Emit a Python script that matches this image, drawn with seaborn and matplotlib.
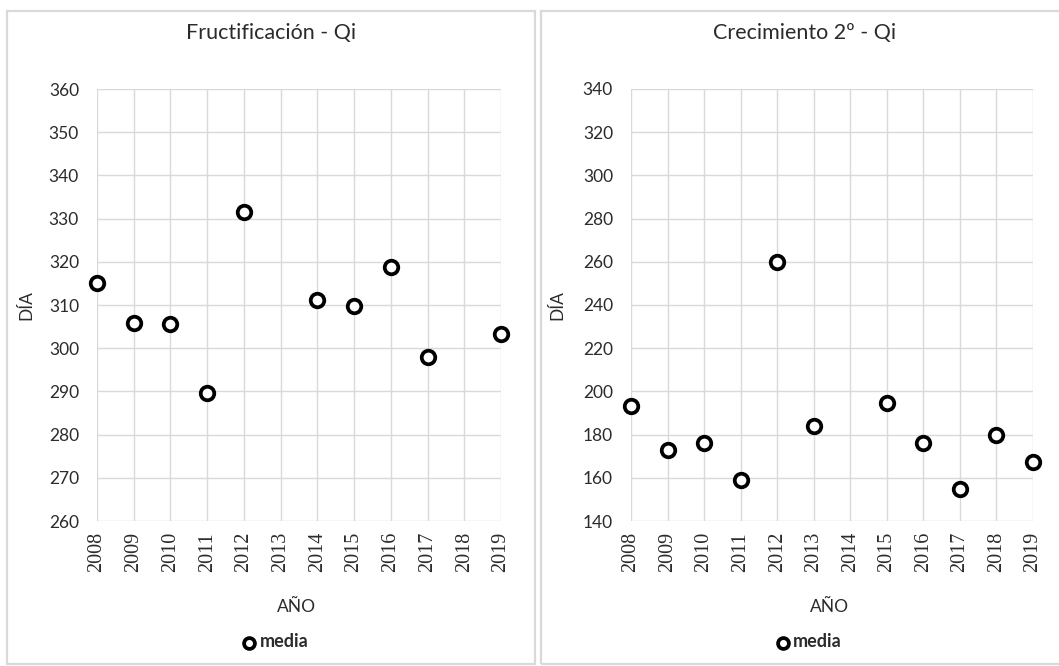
import matplotlib
matplotlib.use("Agg")
import matplotlib.pyplot as plt
from matplotlib.patches import Rectangle
import seaborn as sns
import pandas as pd

# Mean day of year per phenophase and year
years_all = list(range(2008, 2020))

fruct_years = [2008, 2009, 2010, 2011, 2012, 2014, 2015, 2016, 2017, 2019]
fruct_media = [315.2, 305.8, 305.6, 289.7, 331.6, 311.2, 309.7, 318.8, 297.9, 303.3]

crec_years = [2008, 2009, 2010, 2011, 2012, 2013, 2015, 2016, 2017, 2018, 2019]
crec_media = [193.1, 173.1, 176.3, 159.1, 259.7, 183.8, 194.4, 175.9, 154.6, 179.8, 167.4]

titles = ["Fructificación - Qi", "Crecimiento 2º - Qi"]
y_ranges = [(260, 360, 10), (140, 340, 20)]

sns.set_style("white")
plt.rcParams["font.family"] = ["Lato", "DejaVu Sans"]

W, H = 1059, 666
fig = plt.figure(figsize=(W / 100, H / 100), dpi=100)

GRID = "#d9d9d9"
TXT = "#2b2b2b"

# Chart frames
for (x0, y0, x1, y1) in [(7, 11, 535, 664), (541, 11, 1070, 664)]:
    fig.patches.append(Rectangle((x0 / W, 1 - y1 / H), (x1 - x0) / W, (y1 - y0) / H,
                                 transform=fig.transFigure, fill=False,
                                 edgecolor=GRID, lw=1.6))

axes_px = [(97, 501), (631, 1033)]
ylab_x = [-0.156, -0.163]
datasets = [(fruct_years, fruct_media), (crec_years, crec_media)]
top, bottom = 89, 521

for (xl, xr), (yrs, vals), title, (ymin, ymax, step), ylx in zip(
        axes_px, datasets, titles, y_ranges, ylab_x):
    ax = fig.add_axes([xl / W, 1 - bottom / H, (xr - xl) / W, (bottom - top) / H])
    df = pd.DataFrame({"AÑO": yrs, "media": vals})
    sns.scatterplot(data=df, x="AÑO", y="media", ax=ax, marker="o", s=95,
                    facecolor="white", edgecolor="black", linewidth=2.7,
                    label="media", zorder=3, clip_on=False)
    ax.set_xlim(2008, 2019)
    ax.set_ylim(ymin, ymax)
    ax.set_xticks(years_all)
    ax.set_xticklabels([str(y) for y in years_all], rotation=90,
                       family="Liberation Serif", fontsize=14.5)
    ax.set_yticks(range(ymin, ymax + 1, step))
    ax.grid(True, color=GRID, lw=1)
    ax.set_axisbelow(True)
    for s in ax.spines.values():
        s.set_visible(False)
    ax.tick_params(axis="y", length=0, pad=13, labelsize=12.5, labelcolor=TXT)
    ax.tick_params(axis="x", length=0, pad=8, labelcolor=TXT)

    ax.set_xlabel("AÑO", fontsize=12.5, color=TXT)
    ax.set_ylabel("DÍA", fontsize=12.5, color=TXT)
    ax.xaxis.set_label_coords(0.494, -0.181)
    ax.yaxis.set_label_coords(ylx, 0.5)
    ax.set_title(title, fontsize=15.5, color=TXT, x=0.432, y=1.111, va="center")

    leg = ax.legend(loc="center", bbox_to_anchor=(0.44, -0.28), frameon=False,
                    handletextpad=0.1, handlelength=0.9, markerscale=0.8,
                    prop={"size": 13, "weight": "bold"})
    for t in leg.get_texts():
        t.set_color(TXT)

fig.savefig("out.png", dpi=100)
